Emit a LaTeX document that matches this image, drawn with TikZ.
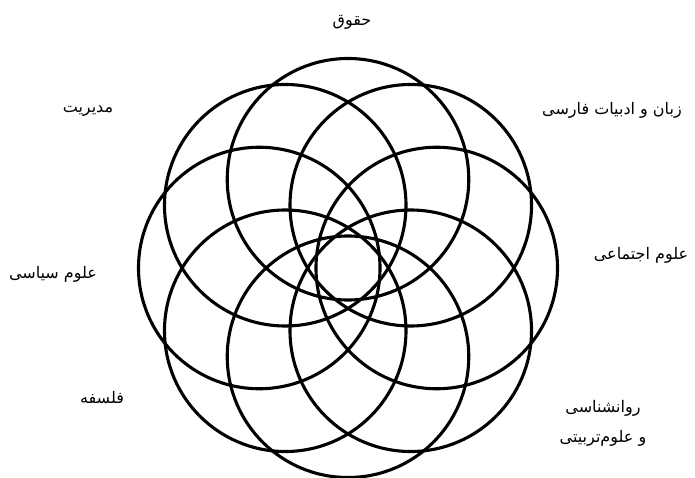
\documentclass[tikz,border=0pt]{standalone}
\usepackage{fontspec}
\newfontfamily\arabicfont[Script=Arabic]{DejaVu Sans}
\TeXXeTstate=1
\begin{document}
\begin{tikzpicture}[x=1pt,y=-1pt]

    \tikzset{
      ring/.style={
        draw,
        color={black},
        line width=3.1pt,
      },
      field/.style={
        anchor=center,
        align=center,
        inner sep=0pt,
        font=\arabicfont\fontsize{16}{30}\selectfont,
      },
    }
    \useasboundingbox (0,0) rectangle (695,478);


	\draw[ring] (348,179.25) circle (120.75pt);
	\draw[ring] (410.76,205.24) circle (120.75pt);
	\draw[ring] (436.75,268) circle (120.75pt);
	\draw[ring] (410.76,330.76) circle (120.75pt);
	\draw[ring] (348,356.75) circle (120.75pt);
	\draw[ring] (285.24,330.76) circle (120.75pt);
	\draw[ring] (259.25,268) circle (120.75pt);
	\draw[ring] (285.24,205.24) circle (120.75pt);

	\node[field] (huquq) at (352,22) {\beginR حقوق\endR};
	\node[field] (adabiyat) at (612,110) {\beginR زبان و ادبیات فارسی\endR};
	\node[field] (ejtemai) at (641,255) {\beginR علوم اجتماعی\endR};
	\node[field] (ravanshenasi) at (603,423) {\beginR روانشناسی\endR\\ \beginR و علوم‌تربیتی\endR};
	\node[field] (falsafe) at (102,398) {\beginR فلسفه\endR};
	\node[field] (siasi) at (53,274) {\beginR علوم سیاسی\endR};
	\node[field] (modiriyat) at (88,111) {\beginR مدیریت\endR};

\end{tikzpicture}
\end{document}
